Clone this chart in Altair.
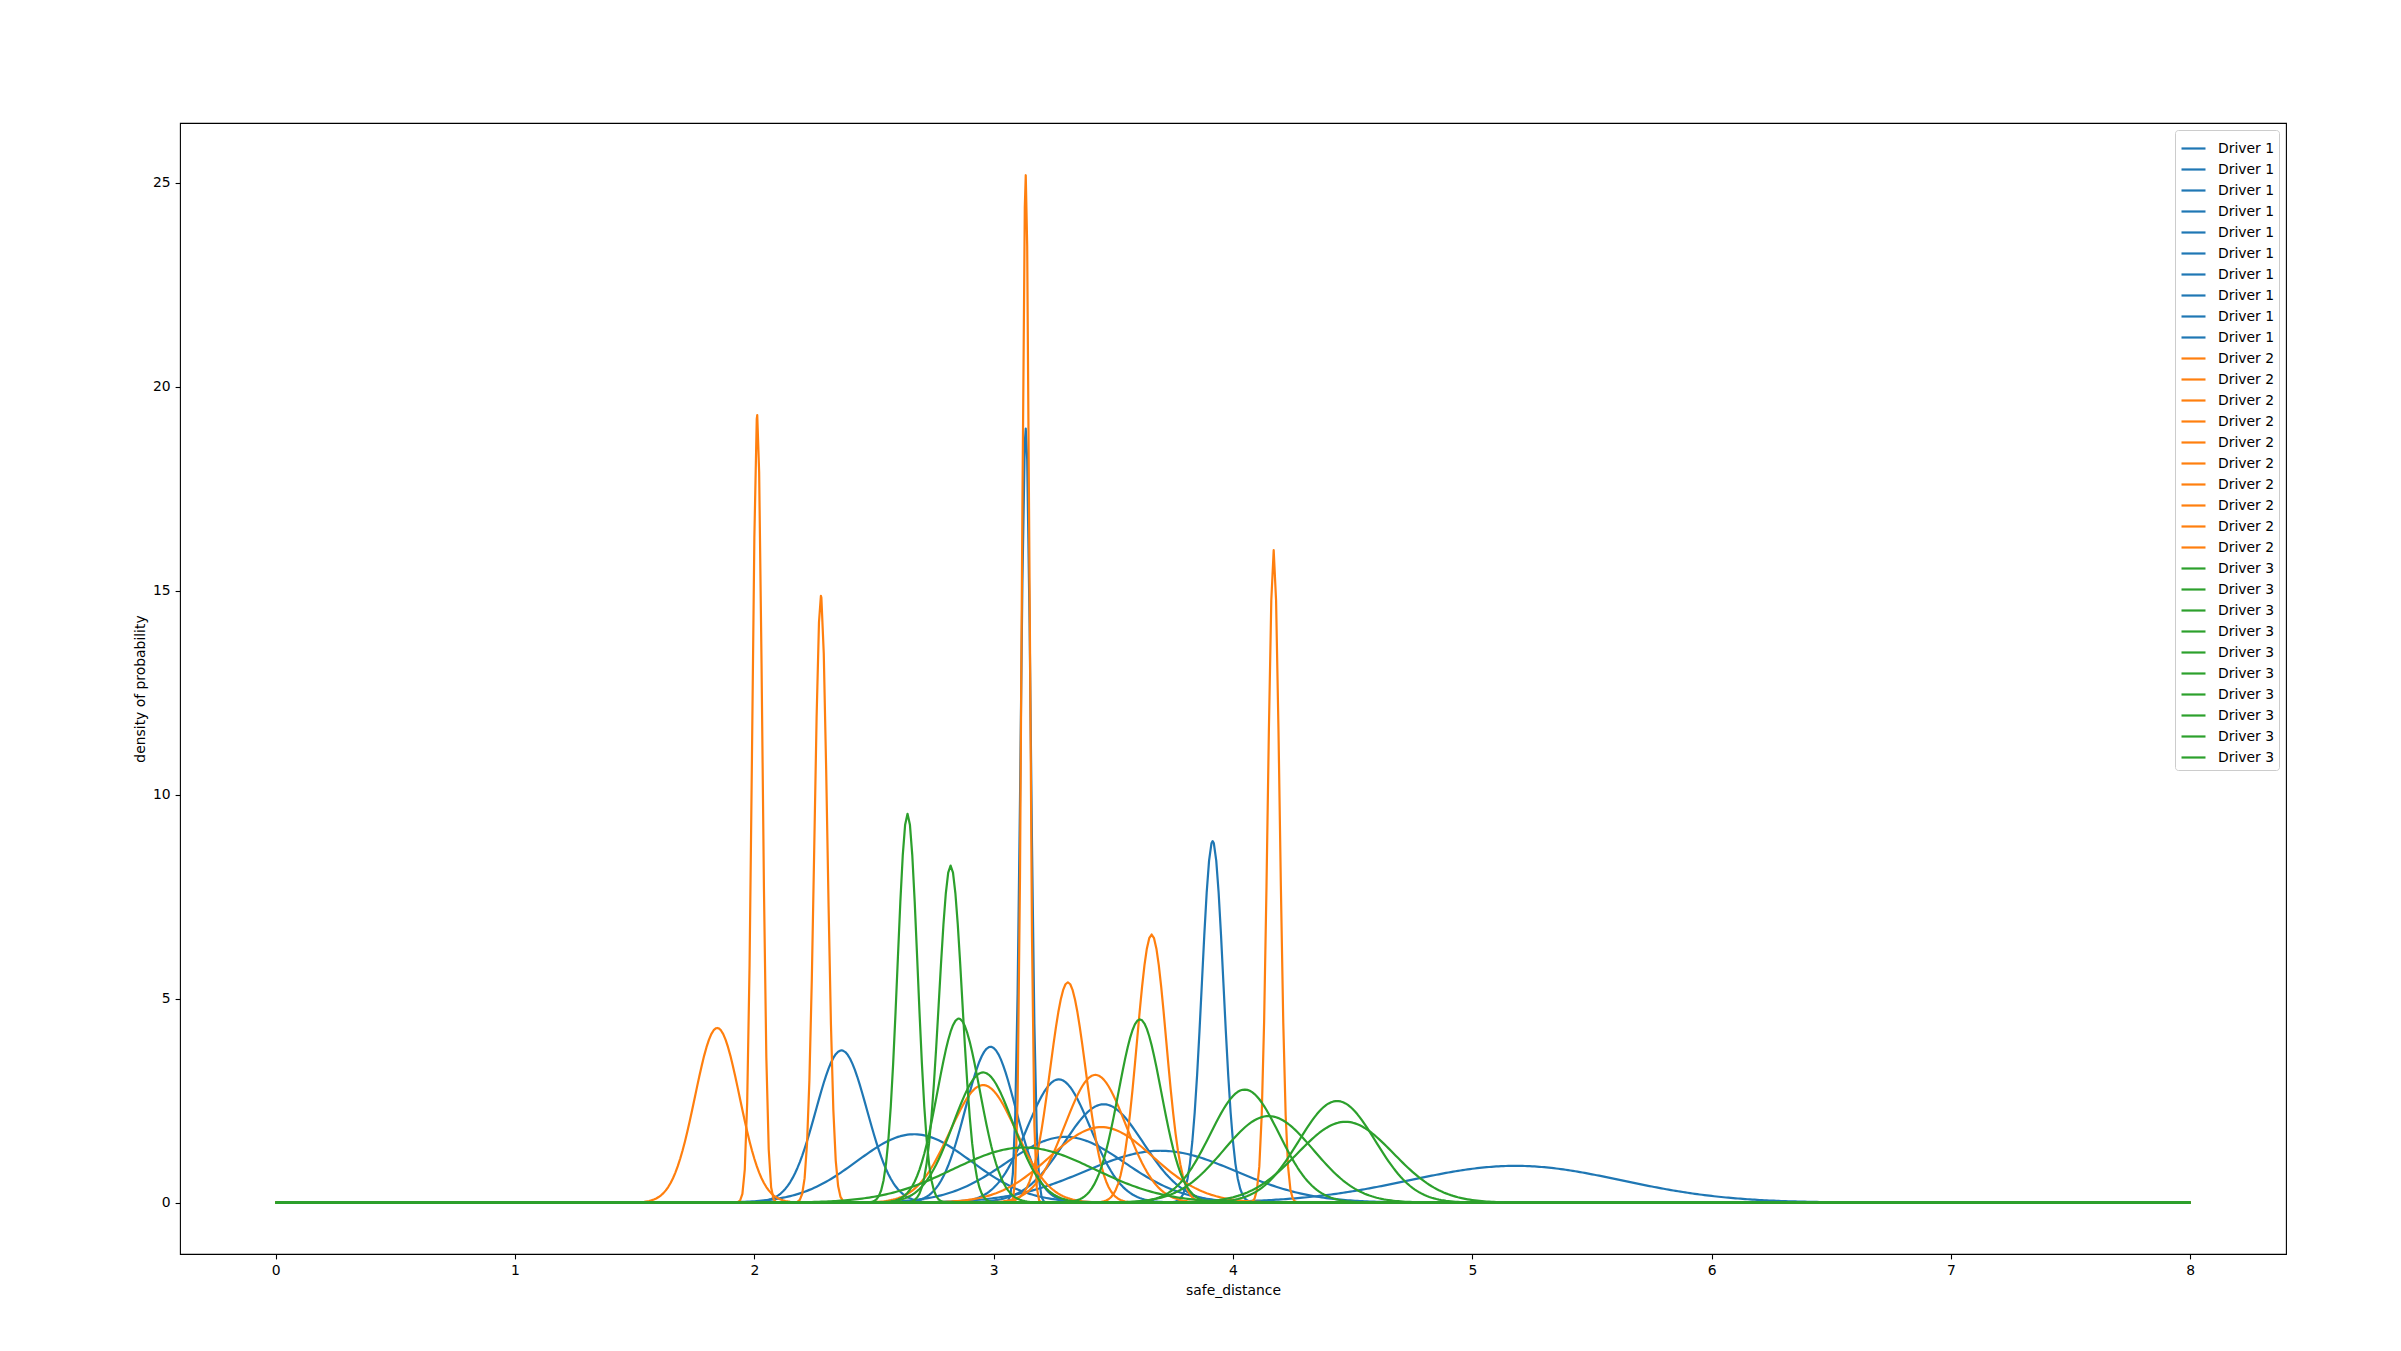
import numpy as np
import pandas as pd
import altair as alt

# Peak positions (safe_distance) and peak heights (density)
driver1_means = [2.364, 2.667, 2.987, 3.134, 3.272, 3.300, 3.460, 3.697, 3.915, 5.180]
driver1_peaks = [3.73, 1.675, 3.82, 18.97, 3.02, 1.61, 2.41, 1.27, 8.86, 0.90]

driver2_means = [1.845, 2.012, 2.278, 2.956, 3.134, 3.310, 3.425, 3.450, 3.660, 4.170]
driver2_peaks = [4.28, 19.30, 14.87, 2.88, 25.18, 5.40, 3.13, 1.85, 6.57, 15.99]

driver3_means = [2.640, 2.820, 2.854, 2.956, 3.126, 3.611, 4.049, 4.149, 4.435, 4.470]
driver3_peaks = [9.53, 8.26, 4.51, 3.19, 1.35, 4.49, 2.77, 2.12, 2.49, 1.98]

drivers = ["Driver 1", "Driver 2", "Driver 3"]
driver_colors = ["#1f77b4", "#ff7f0e", "#2ca02c"]
x_ticks = [0, 1, 2, 3, 4, 5, 6, 7, 8]
y_ticks = [0, 5, 10, 15, 20, 25]

base_grid = np.linspace(0, 8, 801)
rows = []
ids = []
colors = []
for d, (means, peaks) in enumerate([(driver1_means, driver1_peaks),
                                    (driver2_means, driver2_peaks),
                                    (driver3_means, driver3_peaks)]):
    for k, (m, p) in enumerate(zip(means, peaks)):
        grid = np.unique(np.append(base_grid, m))
        sigma = 1.0 / (p * np.sqrt(2 * np.pi))
        dens = p * np.exp(-0.5 * ((grid - m) / sigma) ** 2)
        cid = f"{drivers[d]} #{k:02d}"
        ids.append(cid)
        colors.append(driver_colors[d])
        for xv, yv in zip(grid, dens):
            rows.append((cid, round(float(xv), 4), round(float(yv), 4)))

df = pd.DataFrame(rows, columns=["curve", "safe_distance", "density"])

font = "DejaVu Sans"

chart = alt.Chart(df).mark_line(strokeWidth=2.2, strokeJoin="round", clip=True).encode(
    x=alt.X("safe_distance:Q",
            scale=alt.Scale(domain=[-0.4, 8.4], nice=False, zero=False),
            axis=alt.Axis(title="safe_distance", values=x_ticks, format="d", grid=False)),
    y=alt.Y("density:Q",
            scale=alt.Scale(domain=[-1.26, 26.46], nice=False, zero=False),
            axis=alt.Axis(title="density of probability", values=y_ticks, format="d", grid=False)),
    color=alt.Color("curve:N",
                    scale=alt.Scale(domain=ids, range=colors),
                    sort=ids,
                    legend=alt.Legend(
                        title=None,
                        orient="top-right",
                        offset=7,
                        symbolType="stroke",
                        symbolSize=576,
                        symbolStrokeWidth=2.2,
                        labelExpr="split(datum.label, ' #')[0]",
                        labelFont=font,
                        labelFontSize=13.9,
                        labelColor="black",
                        labelOffset=11,
                        rowPadding=0,
                        padding=5,
                        strokeColor="#cccccc",
                        fillColor="rgba(255,255,255,0.8)",
                        cornerRadius=3,
                        symbolLimit=0,
                    )),
    order=alt.Order("safe_distance:Q"),
).properties(
    width=2106,
    height=1131,
    background="white",
    autosize=alt.AutoSizeParams(type="none"),
    padding={"left": 172, "top": 115, "right": 107, "bottom": 89},
).configure_view(
    stroke="black", strokeWidth=1.1, fill="white"
).configure_axis(
    grid=False,
    domain=False,
    tickColor="black",
    tickSize=4.9,
    tickWidth=1.1,
    labelPadding=4.9,
    labelFont=font,
    labelFontSize=13.9,
    labelColor="black",
    titleFont=font,
    titleFontSize=13.9,
    titleFontWeight="normal",
    titleColor="black",
    titlePadding=5.5,
)

chart.save("out.html", embed_options={"renderer": "svg", "actions": False})
